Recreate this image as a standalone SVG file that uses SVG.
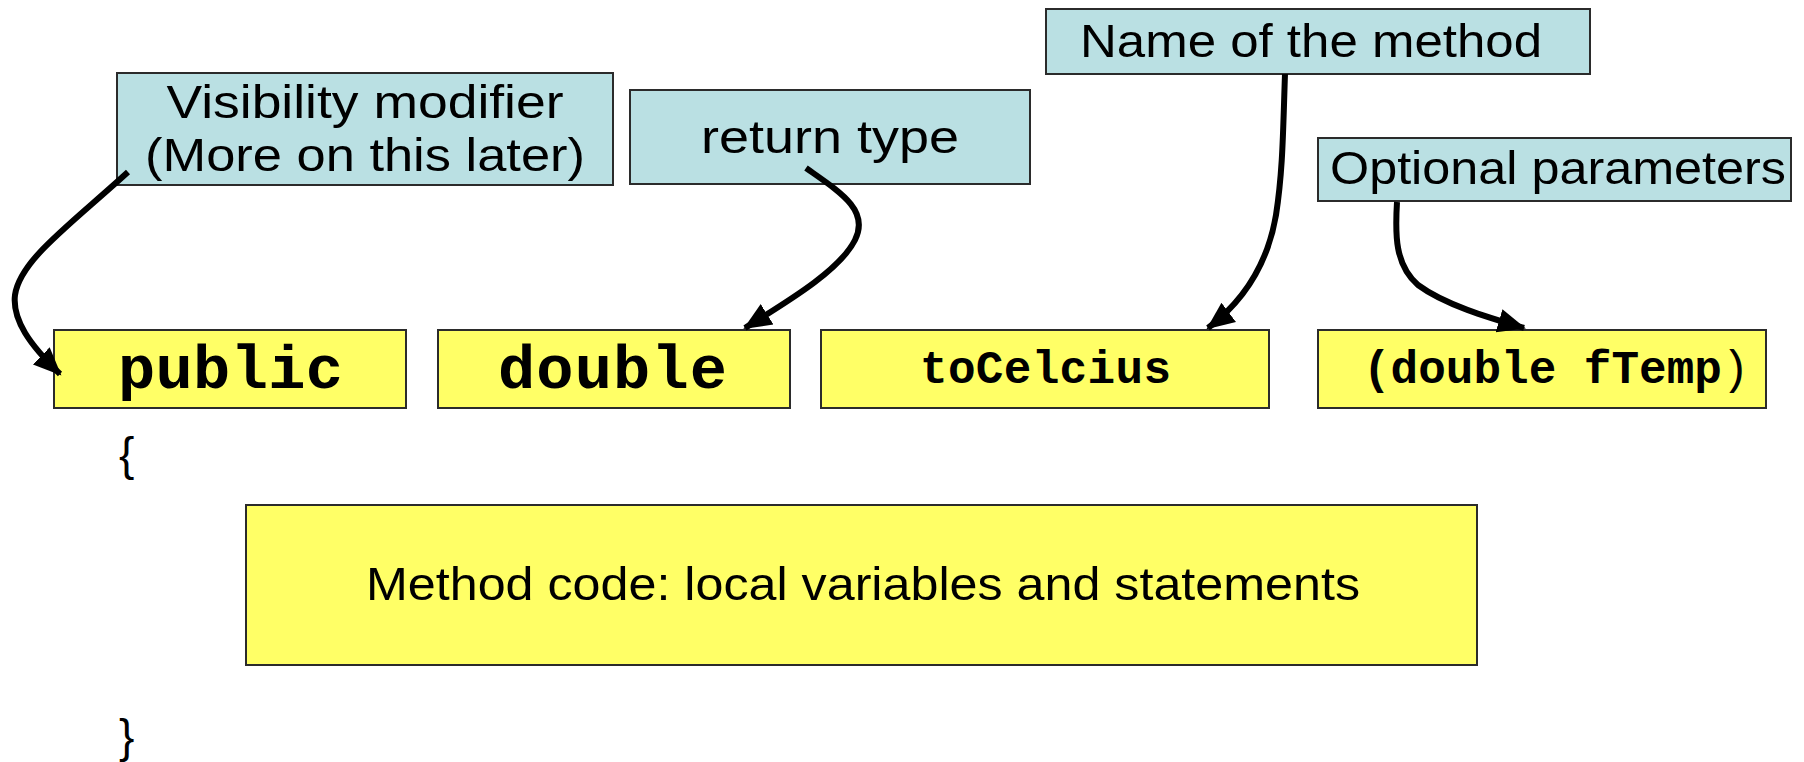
<svg xmlns="http://www.w3.org/2000/svg" width="1804" height="762" viewBox="0 0 1804 762">
  <style>
    .note { fill: #bae0e3; stroke: #2b2b2b; stroke-width: 2; }
    .code { fill: #ffff66; stroke: #2b2b2b; stroke-width: 2; }
    .lbl { font-family: "Liberation Sans", Arial, sans-serif; font-size: 46px; fill: #000; text-anchor: middle; }
    .mono { font-family: "Liberation Mono", "Courier New", monospace; font-weight: bold; fill: #000; }
    .brace { font-family: "Liberation Sans", Arial, sans-serif; font-size: 46px; fill: #000; }
    .conn { fill: none; stroke: #000; stroke-width: 6; stroke-linecap: butt; }
  </style>
  <defs>
    <marker id="head" markerUnits="userSpaceOnUse" markerWidth="30" markerHeight="30" viewBox="0 0 30 30" refX="26" refY="15" orient="auto">
      <path d="M0,3 L28,15 L0,27 Z" fill="#000"/>
    </marker>
  </defs>

  <rect width="1804" height="762" fill="#fff"/>

  <!-- annotation labels -->
  <g id="visibility">
    <rect class="note" x="117" y="73" width="496" height="112"/>
    <text class="lbl" x="365" y="118" textLength="397" lengthAdjust="spacingAndGlyphs">Visibility modifier</text>
    <text class="lbl" x="365" y="171" textLength="440" lengthAdjust="spacingAndGlyphs">(More on this later)</text>
  </g>
  <g id="return-type">
    <rect class="note" x="630" y="90" width="400" height="94"/>
    <text class="lbl" x="830" y="153" textLength="258" lengthAdjust="spacingAndGlyphs">return type</text>
  </g>
  <g id="method-name">
    <rect class="note" x="1046" y="9" width="544" height="65"/>
    <text class="lbl" x="1311" y="57" textLength="462" lengthAdjust="spacingAndGlyphs">Name of the method</text>
  </g>
  <g id="parameters">
    <rect class="note" x="1318" y="138" width="473" height="63"/>
    <text class="lbl" x="1558" y="184" textLength="456" lengthAdjust="spacingAndGlyphs">Optional parameters</text>
  </g>

  <!-- method header pieces -->
  <g id="public">
    <rect class="code" x="54" y="330" width="352" height="78"/>
    <text class="mono" x="118" y="388" font-size="62" textLength="225">public</text>
  </g>
  <g id="double">
    <rect class="code" x="438" y="330" width="352" height="78"/>
    <text class="mono" x="498" y="388" font-size="62" textLength="229">double</text>
  </g>
  <g id="to-celcius">
    <rect class="code" x="821" y="330" width="448" height="78"/>
    <text class="mono" x="920" y="383" font-size="46" textLength="251">toCelcius</text>
  </g>
  <g id="param-list">
    <rect class="code" x="1318" y="330" width="448" height="78"/>
    <text class="mono" x="1363" y="383" font-size="46">(double fTemp<tspan font-weight="normal">)</tspan></text>
  </g>

  <!-- method body -->
  <g id="open-brace">
    <text class="brace" x="119" y="470">{</text>
  </g>
  <g id="body">
    <rect class="code" x="246" y="505" width="1231" height="160"/>
    <text class="lbl" x="863" y="600" textLength="994" lengthAdjust="spacingAndGlyphs">Method code: local variables and statements</text>
  </g>
  <g id="close-brace">
    <text class="brace" x="119" y="752">}</text>
  </g>

  <!-- connectors -->
  <g id="connectors">
    <path class="conn" marker-end="url(#head)" d="M128,172 C70,225 20,260 15,295 C12,320 30,345 60,374"/>
    <path class="conn" marker-end="url(#head)" d="M806,168 C840,192 870,210 855,240 C840,270 790,300 745,328"/>
    <path class="conn" marker-end="url(#head)" d="M1285,74 C1283,130 1283,170 1276,215 C1268,262 1245,300 1208,328"/>
    <path class="conn" marker-end="url(#head)" d="M1397,202 C1395,235 1395,265 1418,285 C1445,305 1490,318 1524,328"/>
  </g>
</svg>
